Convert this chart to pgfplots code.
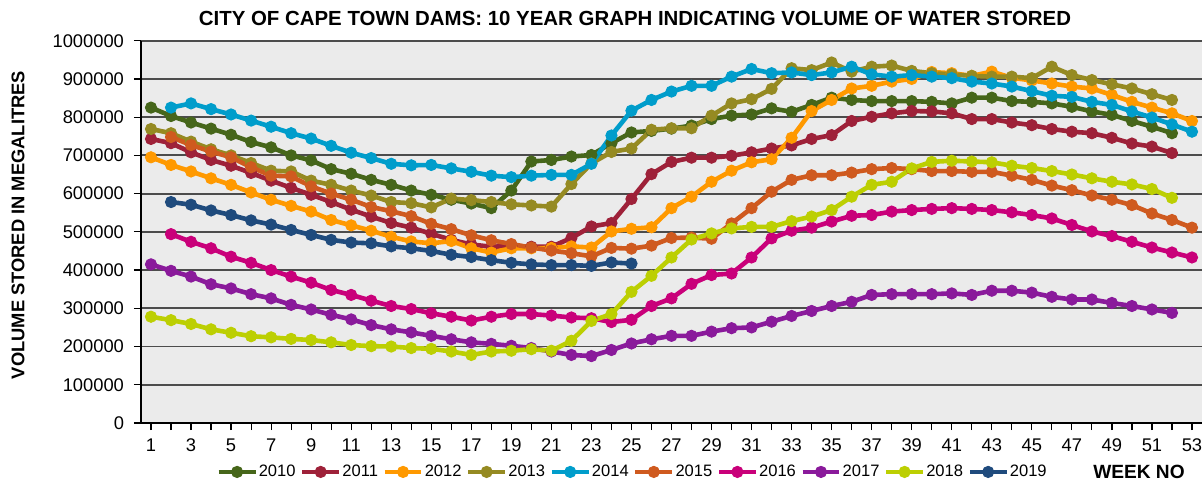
\documentclass[border=0pt]{standalone}
\usepackage{fontspec}
\setmainfont{Liberation Sans}
\usepackage{pgfplots}
\pgfplotsset{compat=1.18}
\definecolor{bg}{HTML}{EBEBEB}
\definecolor{c2010}{HTML}{46661A}
\definecolor{c2011}{HTML}{9E2139}
\definecolor{c2012}{HTML}{FF9900}
\definecolor{c2013}{HTML}{958A22}
\definecolor{c2014}{HTML}{009DCB}
\definecolor{c2015}{HTML}{CF5A1F}
\definecolor{c2016}{HTML}{C9007A}
\definecolor{c2017}{HTML}{8A1A9B}
\definecolor{c2018}{HTML}{BCCF02}
\definecolor{c2019}{HTML}{1F4B7D}
\pgfplotsset{
  ser/.style={color=#1, line width=2.3bp, mark=*, mark size=2.8bp, mark options={solid, line width=0.5bp, fill=#1}},
}
\begin{document}
\begin{tikzpicture}
\useasboundingbox (-70.5bp,-29.5bp) rectangle (530.5bp,211.5bp);
\begin{axis}[
  at={(0,0)}, anchor=south west,
  scale only axis, width=530.5bp, height=191.15bp,
  xmin=0.5, xmax=53.5, ymin=0, ymax=1000000,
  axis lines*=left, axis line style={black, line width=1bp},
  axis background/.style={fill=bg},
  xtick={1,3,...,53}, minor xtick={2,4,...,52},
  ytick={0,100000,...,1000000},
  tick align=outside, major tick length=3.5bp, minor tick length=3.5bp,
  tick style={black, line width=0.6bp},
  ymajorgrids, grid style={black!70, line width=0.9bp},
  scaled y ticks=false,
  /pgf/number format/fixed, /pgf/number format/1000 sep={}, /pgf/number format/assume math mode=true,
  tick label style={font=\fontsize{9.2}{10}\selectfont},
  yticklabel style={xshift=-1.5bp},
  xticklabel style={yshift=-1bp},
  legend columns=10,
  legend style={at={(axis description cs:0.0707,-0.128)}, anchor=west, draw=none, fill=none,
    font=\fontsize{8.3}{10}\selectfont, inner sep=0pt, nodes={inner sep=0.5bp},
    /tikz/every even column/.append style={column sep=1.7bp}},
  legend image code/.code={\draw[mark repeat=2,mark phase=2,#1] plot coordinates {(0bp,0bp)(9.2bp,0bp)(18.4bp,0bp)};},
]
\addplot[ser=c2010] table[row sep=\\] {x y\\
1 825000\\ 2 803000\\ 3 786000\\ 4 770000\\ 5 754000\\ 6 735000\\ 7 721000\\ 8 700000\\ 9 687000\\ 10 664000\\
11 652000\\ 12 636000\\ 13 623000\\ 14 608000\\ 15 597000\\ 16 584000\\ 17 574000\\ 18 562000\\ 19 608000\\ 20 684000\\
21 688000\\ 22 697000\\ 23 701000\\ 24 732000\\ 25 760000\\ 26 764000\\ 27 770000\\ 28 778000\\ 29 795000\\ 30 804000\\
31 807000\\ 32 823000\\ 33 814000\\ 34 832000\\ 35 851000\\ 36 845000\\ 37 842000\\ 38 842000\\ 39 842000\\ 40 840000\\
41 836000\\ 42 851000\\ 43 851000\\ 44 842000\\ 45 840000\\ 46 836000\\ 47 827000\\ 48 815000\\ 49 806000\\ 50 790000\\
51 775000\\ 52 758000\\
};
\addlegendentry{2010}
\addplot[ser=c2011] table[row sep=\\] {x y\\
1 743000\\ 2 732000\\ 3 708000\\ 4 688000\\ 5 673000\\ 6 654000\\ 7 634000\\ 8 615000\\ 9 597000\\ 10 578000\\
11 558000\\ 12 540000\\ 13 523000\\ 14 511000\\ 15 495000\\ 16 479000\\ 17 467000\\ 18 461000\\ 19 463000\\ 20 461000\\
21 461000\\ 22 484000\\ 23 514000\\ 24 523000\\ 25 586000\\ 26 651000\\ 27 683000\\ 28 694000\\ 29 694000\\ 30 699000\\
31 708000\\ 32 718000\\ 33 726000\\ 34 743000\\ 35 753000\\ 36 790000\\ 37 801000\\ 38 810000\\ 39 816000\\ 40 815000\\
41 810000\\ 42 795000\\ 43 795000\\ 44 786000\\ 45 779000\\ 46 769000\\ 47 762000\\ 48 758000\\ 49 746000\\ 50 731000\\
51 723000\\ 52 706000\\
};
\addlegendentry{2011}
\addplot[ser=c2012] table[row sep=\\] {x y\\
1 695000\\ 2 675000\\ 3 658000\\ 4 640000\\ 5 623000\\ 6 603000\\ 7 584000\\ 8 568000\\ 9 553000\\ 10 531000\\
11 517000\\ 12 503000\\ 13 487000\\ 14 475000\\ 15 470000\\ 16 476000\\ 17 457000\\ 18 446000\\ 19 457000\\ 20 457000\\
21 458000\\ 22 462000\\ 23 459000\\ 24 501000\\ 25 508000\\ 26 512000\\ 27 562000\\ 28 592000\\ 29 631000\\ 30 660000\\
31 682000\\ 32 690000\\ 33 746000\\ 34 816000\\ 35 845000\\ 36 875000\\ 37 882000\\ 38 893000\\ 39 900000\\ 40 918000\\
41 915000\\ 42 908000\\ 43 919000\\ 44 903000\\ 45 896000\\ 46 888000\\ 47 880000\\ 48 875000\\ 49 858000\\ 50 840000\\
51 825000\\ 52 810000\\ 53 790000\\
};
\addlegendentry{2012}
\addplot[ser=c2013] table[row sep=\\] {x y\\
1 769000\\ 2 758000\\ 3 736000\\ 4 716000\\ 5 700000\\ 6 680000\\ 7 660000\\ 8 658000\\ 9 634000\\ 10 623000\\
11 608000\\ 12 595000\\ 13 578000\\ 14 575000\\ 15 564000\\ 16 587000\\ 17 583000\\ 18 578000\\ 19 572000\\ 20 569000\\
21 566000\\ 22 625000\\ 23 679000\\ 24 709000\\ 25 718000\\ 26 767000\\ 27 771000\\ 28 771000\\ 29 804000\\ 30 836000\\
31 847000\\ 32 874000\\ 33 928000\\ 34 923000\\ 35 943000\\ 36 919000\\ 37 932000\\ 38 935000\\ 39 921000\\ 40 915000\\
41 912000\\ 42 908000\\ 43 906000\\ 44 906000\\ 45 902000\\ 46 932000\\ 47 910000\\ 48 897000\\ 49 886000\\ 50 875000\\
51 860000\\ 52 845000\\
};
\addlegendentry{2013}
\addplot[ser=c2014] table[row sep=\\] {x y\\
2 825000\\ 3 836000\\ 4 821000\\ 5 807000\\ 6 791000\\ 7 775000\\ 8 758000\\ 9 744000\\ 10 725000\\
11 707000\\ 12 693000\\ 13 678000\\ 14 674000\\ 15 675000\\ 16 666000\\ 17 657000\\ 18 647000\\ 19 643000\\ 20 647000\\
21 649000\\ 22 649000\\ 23 678000\\ 24 752000\\ 25 817000\\ 26 845000\\ 27 867000\\ 28 882000\\ 29 882000\\ 30 906000\\
31 926000\\ 32 915000\\ 33 917000\\ 34 910000\\ 35 917000\\ 36 932000\\ 37 912000\\ 38 906000\\ 39 910000\\ 40 906000\\
41 902000\\ 42 893000\\ 43 888000\\ 44 880000\\ 45 868000\\ 46 856000\\ 47 853000\\ 48 840000\\ 49 832000\\ 50 815000\\
51 799000\\ 52 781000\\ 53 762000\\
};
\addlegendentry{2014}
\addplot[ser=c2015] table[row sep=\\] {x y\\
2 748000\\ 3 727000\\ 4 710000\\ 5 695000\\ 6 669000\\ 7 647000\\ 8 645000\\ 9 619000\\ 10 600000\\
11 584000\\ 12 565000\\ 13 554000\\ 14 541000\\ 15 521000\\ 16 507000\\ 17 491000\\ 18 478000\\ 19 468000\\ 20 459000\\
21 451000\\ 22 444000\\ 23 436000\\ 24 458000\\ 25 456000\\ 26 464000\\ 27 484000\\ 28 485000\\ 29 482000\\ 30 522000\\
31 562000\\ 32 605000\\ 33 636000\\ 34 648000\\ 35 648000\\ 36 655000\\ 37 664000\\ 38 667000\\ 39 664000\\ 40 659000\\
41 659000\\ 42 657000\\ 43 657000\\ 44 647000\\ 45 636000\\ 46 621000\\ 47 609000\\ 48 595000\\ 49 584000\\ 50 570000\\
51 548000\\ 52 531000\\ 53 511000\\
};
\addlegendentry{2015}
\addplot[ser=c2016] table[row sep=\\] {x y\\
2 494000\\ 3 474000\\ 4 457000\\ 5 435000\\ 6 419000\\ 7 400000\\ 8 383000\\ 9 367000\\ 10 348000\\
11 335000\\ 12 320000\\ 13 306000\\ 14 298000\\ 15 287000\\ 16 278000\\ 17 268000\\ 18 278000\\ 19 285000\\ 20 285000\\
21 281000\\ 22 276000\\ 23 274000\\ 24 264000\\ 25 270000\\ 26 306000\\ 27 326000\\ 28 364000\\ 29 387000\\ 30 391000\\
31 433000\\ 32 483000\\ 33 503000\\ 34 511000\\ 35 527000\\ 36 542000\\ 37 544000\\ 38 553000\\ 39 557000\\ 40 560000\\
41 562000\\ 42 560000\\ 43 557000\\ 44 551000\\ 45 544000\\ 46 535000\\ 47 518000\\ 48 501000\\ 49 489000\\ 50 474000\\
51 459000\\ 52 446000\\ 53 433000\\
};
\addlegendentry{2016}
\addplot[ser=c2017] table[row sep=\\] {x y\\
1 415000\\ 2 398000\\ 3 383000\\ 4 363000\\ 5 352000\\ 6 337000\\ 7 326000\\ 8 309000\\ 9 297000\\ 10 283000\\
11 271000\\ 12 256000\\ 13 245000\\ 14 237000\\ 15 228000\\ 16 219000\\ 17 211000\\ 18 207000\\ 19 202000\\ 20 196000\\
21 187000\\ 22 178000\\ 23 175000\\ 24 191000\\ 25 208000\\ 26 219000\\ 27 228000\\ 28 228000\\ 29 239000\\ 30 248000\\
31 250000\\ 32 265000\\ 33 280000\\ 34 293000\\ 35 306000\\ 36 317000\\ 37 335000\\ 38 337000\\ 39 337000\\ 40 337000\\
41 339000\\ 42 335000\\ 43 346000\\ 44 346000\\ 45 341000\\ 46 330000\\ 47 323000\\ 48 323000\\ 49 314000\\ 50 306000\\
51 297000\\ 52 288000\\
};
\addlegendentry{2017}
\addplot[ser=c2018] table[row sep=\\] {x y\\
1 278000\\ 2 269000\\ 3 259000\\ 4 245000\\ 5 236000\\ 6 227000\\ 7 224000\\ 8 220000\\ 9 217000\\ 10 211000\\
11 204000\\ 12 201000\\ 13 200000\\ 14 196000\\ 15 194000\\ 16 187000\\ 17 178000\\ 18 187000\\ 19 189000\\ 20 193000\\
21 189000\\ 22 215000\\ 23 267000\\ 24 285000\\ 25 343000\\ 26 385000\\ 27 433000\\ 28 480000\\ 29 496000\\ 30 509000\\
31 513000\\ 32 513000\\ 33 528000\\ 34 540000\\ 35 557000\\ 36 592000\\ 37 623000\\ 38 631000\\ 39 666000\\ 40 683000\\
41 686000\\ 42 684000\\ 43 682000\\ 44 673000\\ 45 667000\\ 46 659000\\ 47 650000\\ 48 640000\\ 49 631000\\ 50 624000\\
51 612000\\ 52 589000\\
};
\addlegendentry{2018}
\addplot[ser=c2019] table[row sep=\\] {x y\\
2 578000\\ 3 571000\\ 4 556000\\ 5 544000\\ 6 530000\\ 7 519000\\ 8 505000\\ 9 492000\\ 10 479000\\
11 472000\\ 12 470000\\ 13 462000\\ 14 457000\\ 15 450000\\ 16 440000\\ 17 434000\\ 18 426000\\ 19 419000\\ 20 415000\\
21 413000\\ 22 413000\\ 23 411000\\ 24 420000\\ 25 417000\\
};
\addlegendentry{2019}
\end{axis}
\node[font=\bfseries\fontsize{10.25}{11}\selectfont] at (247bp,202.5bp) {CITY OF CAPE TOWN DAMS: 10 YEAR GRAPH INDICATING VOLUME OF WATER STORED};
\node[font=\bfseries\fontsize{9.2}{11}\selectfont, rotate=90] at (-61.5bp,99bp) {VOLUME STORED IN MEGALITRES};
\node[font=\bfseries\fontsize{9.6}{11}\selectfont] at (499bp,-24.5bp) {WEEK NO};
\end{tikzpicture}
\end{document}
